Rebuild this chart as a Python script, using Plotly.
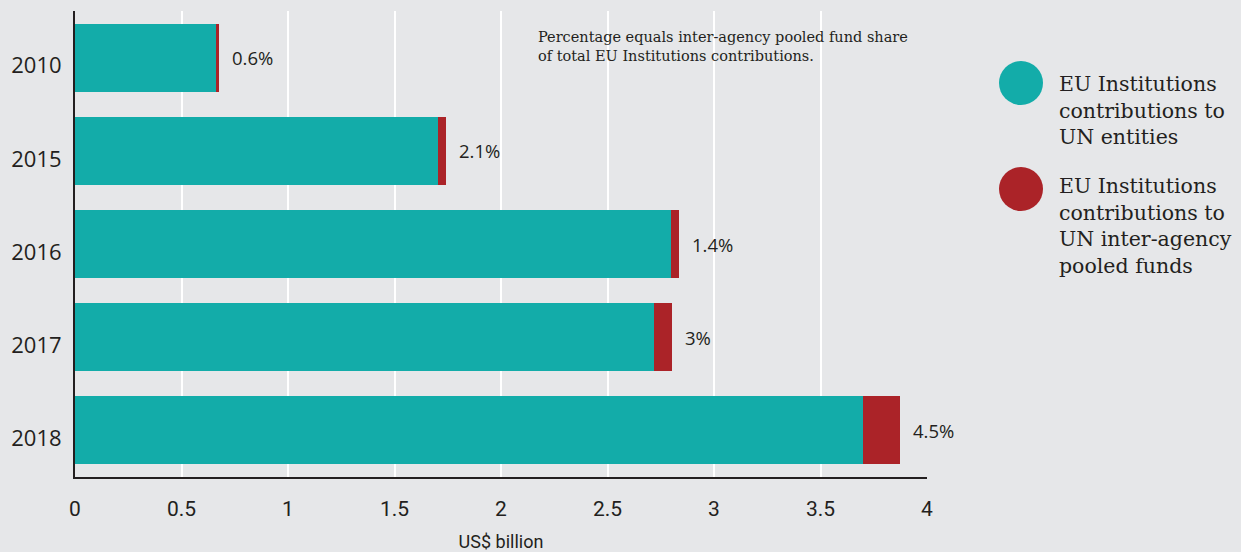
import plotly.graph_objects as go

years = ["2010", "2015", "2016", "2017", "2018"]
un_entities = [0.662, 1.703, 2.80, 2.72, 3.70]
pooled_funds = [0.013, 0.037, 0.038, 0.084, 0.172]
pct_labels = ["0.6%", "2.1%", "1.4%", "3%", "4.5%"]
x_ticks = [0, 0.5, 1, 1.5, 2, 2.5, 3, 3.5, 4]
x_tick_text = ["0", "0.5", "1", "1.5", "2", "2.5", "3", "3.5", "4"]
legend_names = ["EU Institutions<br>contributions to<br>UN entities",
                "EU Institutions<br>contributions to<br>UN inter-agency<br>pooled funds"]

TEAL = "#13aca9"
RED = "#ab2328"
BG = "#e6e7e9"
INK = "#231f20"
SERIF = "DejaVu Serif, Liberation Serif, serif"
SANS = "Open Sans, Lato, sans-serif"
NARROW = "Liberation Sans Narrow, Roboto, sans-serif"

fig = go.Figure()
fig.add_trace(go.Bar(y=years, x=un_entities, orientation="h", marker=dict(color=TEAL, line=dict(width=0)),
                     name="UN entities", showlegend=False, hoverinfo="x"))
fig.add_trace(go.Bar(y=years, x=pooled_funds, orientation="h", marker=dict(color=RED, line=dict(width=0)),
                     name="pooled funds", showlegend=False, hoverinfo="x"))

for i, (a, b, t) in enumerate(zip(un_entities, pooled_funds, pct_labels)):
    fig.add_annotation(x=a + b, y=i, text=t, showarrow=False, xanchor="left", xshift=11,
                       yshift=0, font=dict(family=SANS, size=18.5, color=INK))

fig.add_annotation(xref="paper", yref="paper", x=(536 - 75) / 852, y=1 - (27 - 11) / 466,
                   text="Percentage equals inter-agency pooled fund share<br>of total EU Institutions contributions.",
                   showarrow=False, xanchor="left", yanchor="top", align="left",
                   font=dict(family=SERIF, size=14.5, color=INK))

# custom legend
colors = [TEAL, RED]
centers = [83, 189]
text_tops = [70, 172]
for c, cy, ty, name in zip(colors, centers, text_tops, legend_names):
    fig.add_shape(type="circle", xref="paper", yref="paper",
                  x0=(999 - 75) / 852, x1=(1043 - 75) / 852,
                  y0=1 - (cy + 22 - 11) / 466, y1=1 - (cy - 22 - 11) / 466,
                  fillcolor=c, line=dict(width=0))
    fig.add_annotation(xref="paper", yref="paper", x=(1057 - 75) / 852, y=1 - (ty - 11) / 466,
                       text=name, showarrow=False, xanchor="left", yanchor="top", align="left",
                       font=dict(family=SERIF, size=20.5, color=INK))

fig.update_layout(
    barmode="stack",
    bargap=0.27,
    width=1241, height=552,
    margin=dict(l=75, r=314, t=11, b=75),
    paper_bgcolor=BG, plot_bgcolor=BG,
    xaxis=dict(range=[0, 4], tickvals=x_ticks, ticktext=x_tick_text, showgrid=True,
               gridcolor="white", gridwidth=2, zeroline=False, showline=True, linecolor=INK,
               linewidth=2, ticks="", ticklabelstandoff=12, automargin=False,
               tickfont=dict(family=NARROW, size=21, color=INK),
               title=dict(text="US$ billion", font=dict(family=NARROW, size=18, color=INK), standoff=18)),
    yaxis=dict(type="category", categoryorder="array", categoryarray=years, range=[4.5, -0.5],
               autorange=False, showgrid=False, zeroline=False, showline=True, linecolor=INK, linewidth=2,
               automargin=False, ticks="", ticklabelstandoff=7, ticklabelshift=-8,
               tickfont=dict(family=SANS, size=22, color=INK)),
)

fig.write_html("out.html", config={"displayModeBar": False},
               post_script="document.body.style.margin='0';document.body.style.background='#e6e7e9';")
